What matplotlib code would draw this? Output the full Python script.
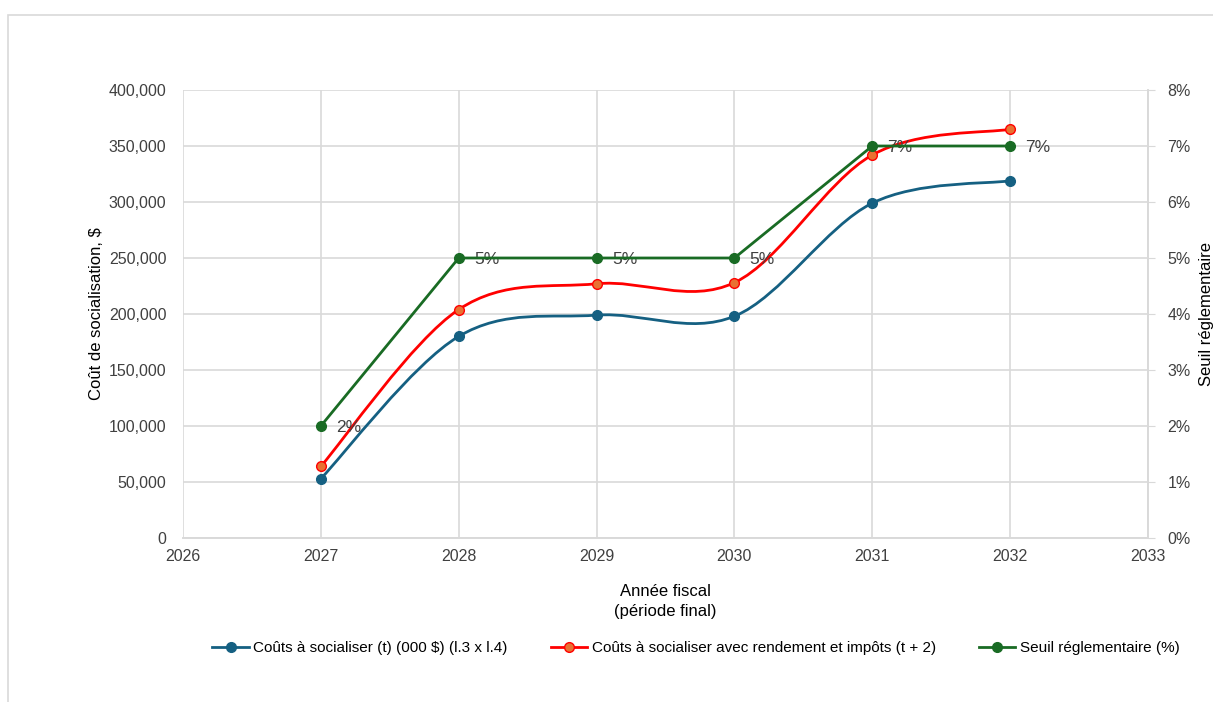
import matplotlib.pyplot as plt
from matplotlib.path import Path
from matplotlib.patches import PathPatch, Rectangle
from matplotlib.ticker import FuncFormatter, MultipleLocator

plt.rcParams["font.family"] = ["Liberation Sans", "DejaVu Sans"]

# fiscal years and series
years = [2027, 2028, 2029, 2030, 2031, 2032]
couts = [53000, 180000, 199000, 198000, 299000, 319000]
couts_rendement = [64000, 204000, 227000, 228000, 342000, 365000]
seuil = [0.02, 0.05, 0.05, 0.05, 0.07, 0.07]

lbl_couts = "Coûts à socialiser (t) (000 $) (l.3 x l.4)"
lbl_rend = "Coûts à socialiser avec rendement et impôts (t + 2)"
lbl_seuil = "Seuil réglementaire (%)"

blue = "#156082"
red = "#ff0000"
orange = "#e97132"
green = "#196b24"
grid = "#d9d9d9"
txt = "#404040"


def smooth_path(xs, ys):
    # Catmull-Rom style bezier through the points (Excel "smoothed line")
    verts = [(xs[0], ys[0])]
    codes = [Path.MOVETO]
    n = len(xs)
    for i in range(n - 1):
        x0, y0 = (xs[i - 1], ys[i - 1]) if i > 0 else (xs[i], ys[i])
        x1, y1 = xs[i], ys[i]
        x2, y2 = xs[i + 1], ys[i + 1]
        x3, y3 = (xs[i + 2], ys[i + 2]) if i + 2 < n else (x2, y2)
        verts += [(x1 + (x2 - x0) / 6, y1 + (y2 - y0) / 6),
                  (x2 - (x3 - x1) / 6, y2 - (y3 - y1) / 6),
                  (x2, y2)]
        codes += [Path.CURVE4] * 3
    return Path(verts, codes)


fig = plt.figure(figsize=(12.13, 7.02), dpi=100)
fig.patches.append(Rectangle((8 / 1213, -0.05), 1.2, 0.05 + 1 - 15 / 702,
                             transform=fig.transFigure, fill=False,
                             edgecolor=grid, linewidth=1.2))

ax = fig.add_axes([183 / 1213, 1 - 538 / 702, (1148 - 183) / 1213, (538 - 90) / 702])
ax2 = ax.twinx()

ax.set_xlim(2026, 2033)
ax.set_ylim(0, 400000)
ax2.set_ylim(0, 0.08)
ax.xaxis.set_major_locator(MultipleLocator(1))
ax.yaxis.set_major_locator(MultipleLocator(50000))
ax2.yaxis.set_major_locator(MultipleLocator(0.01))
ax.yaxis.set_major_formatter(FuncFormatter(lambda v, p: f"{v:,.0f}"))
ax2.yaxis.set_major_formatter(FuncFormatter(lambda v, p: f"{v * 100:.0f}%"))

ax.grid(True, color=grid, linewidth=1.2)
ax.set_axisbelow(True)
for a in (ax, ax2):
    for s in ("top", "left"):
        a.spines[s].set_visible(False)
    a.spines["bottom"].set_color(grid)
    a.spines["right"].set_color(grid)
    a.spines["bottom"].set_linewidth(1.2)
    a.spines["right"].set_linewidth(1.2)
ax.tick_params(axis="y", length=0, labelsize=11.5, labelcolor=txt, pad=12)
ax.tick_params(axis="x", length=0, labelsize=11.5, labelcolor=txt, pad=8)
ax2.tick_params(axis="y", length=5, color=grid, labelsize=11.5, labelcolor=txt, pad=9)

# smoothed cost series
for vals, col in ((couts, blue), (couts_rendement, red)):
    ax.add_patch(PathPatch(smooth_path(years, vals), facecolor="none",
                           edgecolor=col, linewidth=2.0, zorder=3))
ax.plot(years, couts, linestyle="none", marker="o", markersize=7,
        color=blue, zorder=4)
ax.plot(years, couts_rendement, linestyle="none", marker="o", markersize=7,
        markerfacecolor=orange, markeredgecolor=red, markeredgewidth=1, zorder=4)

# threshold on secondary axis
ax2.plot(years, seuil, color=green, linewidth=2.0, marker="o", markersize=7, zorder=4)
for x, v in zip(years, seuil):
    ax2.annotate(f"{v * 100:.0f}%", (x, v), xytext=(11, -1), textcoords="offset points",
                 va="center", ha="left", fontsize=12.5, color=txt)

ax.set_ylabel("Coût de socialisation, $", fontsize=12, color="black", labelpad=3)
ax2.set_ylabel("Seuil réglementaire", fontsize=12, color="black", labelpad=6)
ax.set_xlabel("Année fiscal\n(période final)", fontsize=12, color="black", labelpad=14,
              linespacing=1.45)

handles = [
    plt.Line2D([], [], color=blue, linewidth=2, marker="o", markersize=7),
    plt.Line2D([], [], color=red, linewidth=2, marker="o", markersize=7,
               markerfacecolor=orange, markeredgecolor=red),
    plt.Line2D([], [], color=green, linewidth=2, marker="o", markersize=7),
]
fig.legend(handles, [lbl_couts, lbl_rend, lbl_seuil], loc="center",
           bbox_to_anchor=(696 / 1213, 1 - 648 / 702), ncol=3, frameon=False,
           fontsize=11, handlelength=2.4, handletextpad=0.3, columnspacing=2.8)

fig.savefig("out.png", dpi=100)
